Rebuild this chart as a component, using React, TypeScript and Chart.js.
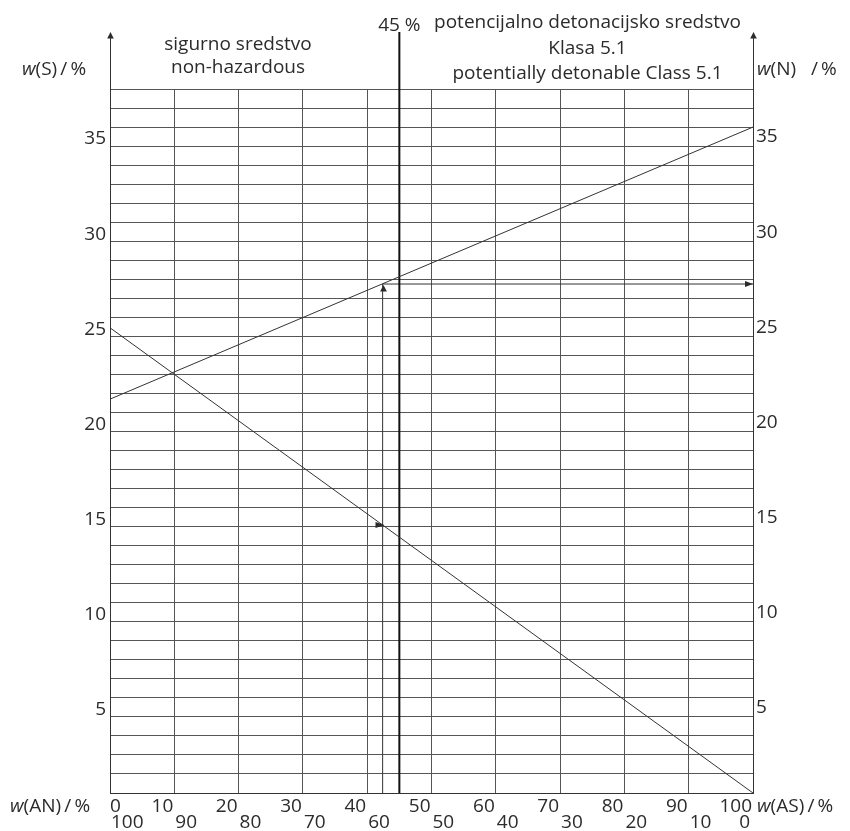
import { useEffect, useRef } from 'react';
import { Chart, registerables } from 'chart.js';

Chart.register(...registerables);

// ---- data ----
const AN_RANGE = [0, 100];            // x: w(AN) / % at the two ends of the lines
const N_LINE = [20.7, 35.0];          // w(N) / % at x = 0 and x = 100
const S_LINE = [24.45, 0];            // w(S) / % at x = 0 and x = 100
const LIMIT_AN = 45;                  // 45 % limit line
const SAMPLE_AN = 42.4;               // worked example: w(AN)
const SAMPLE_N = 26.75;               // read-off w(N)
const SAMPLE_S = 14.08;               // read-off w(S)
const Y_MIN = 0;
const Y_MAX = 37;
const AXIS_TOP = 40;                  // axes / limit line reach up to here
const X_TICKS = [0, 10, 20, 30, 40, 50, 60, 70, 80, 90, 100];
const AN_LABELS = ['0', '10', '20', '30', '40', '50', '60', '70', '80', '90', '100'];
const AS_LABELS = ['100', '90', '80', '70', '60', '50', '40', '30', '20', '10', '0'];
const Y_LABELS = [5, 10, 15, 20, 25, 30, 35];

const FONT = '"Open Sans", "Noto Sans", sans-serif';
const TEXT = '#2b2b2b';
const GRID = '#555555';
const FS = 19;

function arrowHead(ctx: CanvasRenderingContext2D, x: number, y: number, dir: 'up' | 'right', len: number, half: number) {
  ctx.beginPath();
  if (dir === 'up') {
    ctx.moveTo(x, y);
    ctx.lineTo(x - half, y + len);
    ctx.lineTo(x + half, y + len);
  } else {
    ctx.moveTo(x, y);
    ctx.lineTo(x - len, y - half);
    ctx.lineTo(x - len, y + half);
  }
  ctx.closePath();
  ctx.fill();
}

function mixed(ctx: CanvasRenderingContext2D, italic: string, rest: string, x: number, y: number, size: number) {
  ctx.textAlign = 'left';
  ctx.font = `italic ${size}px ${FONT}`;
  ctx.fillText(italic, x, y);
  const w = ctx.measureText(italic).width;
  ctx.font = `${size}px ${FONT}`;
  ctx.fillText(rest, x + w, y);
}

const decorations = {
  id: 'decorations',
  afterDraw(chart: any) {
    const { ctx, scales } = chart;
    const xs = scales.x;
    const ys = scales.y;
    const top = ys.getPixelForValue(AXIS_TOP);
    ctx.save();
    ctx.fillStyle = TEXT;
    ctx.strokeStyle = '#333';
    ctx.lineWidth = 1;

    // axis extensions with arrows
    for (const xv of AN_RANGE) {
      const px = Math.round(xs.getPixelForValue(xv)) + 0.5;
      ctx.beginPath();
      ctx.moveTo(px, ys.getPixelForValue(Y_MAX));
      ctx.lineTo(px, top + 4);
      ctx.stroke();
      arrowHead(ctx, px, top, 'up', 6.5, 3.3);
    }

    // worked-example arrow heads
    const sx = Math.round(xs.getPixelForValue(SAMPLE_AN)) + 0.5;
    arrowHead(ctx, sx, ys.getPixelForValue(SAMPLE_N) + 1, 'up', 6.5, 3.4);
    arrowHead(ctx, xs.getPixelForValue(AN_RANGE[1]), ys.getPixelForValue(SAMPLE_N), 'right', 8, 3);
    arrowHead(ctx, sx + 1, ys.getPixelForValue(SAMPLE_S), 'right', 9, 3);

    // titles
    ctx.font = `${FS}px ${FONT}`;
    ctx.textBaseline = 'alphabetic';
    ctx.textAlign = 'center';
    ctx.fillText('sigurno sredstvo', 238, 50);
    ctx.fillText('non-hazardous', 238, 73);
    ctx.fillText('45 %', xs.getPixelForValue(LIMIT_AN), 31);
    ctx.fillText('potencijalno detonacijsko sredstvo', 587.5, 28);
    ctx.fillText('Klasa 5.1', 587.5, 54);
    ctx.fillText('potentially detonable Class 5.1', 587.5, 79);

    mixed(ctx, 'w', '(S)\u2009/\u2009%', 22, 75, FS);
    mixed(ctx, 'w', '(N)   /\u2009%', 757, 75, FS);
    mixed(ctx, 'w', '(AN)\u2009/\u2009%', 10, 812, FS);
    mixed(ctx, 'w', '(AS)\u2009/\u2009%', 757, 812, FS);

    // x tick labels, two rows
    ctx.font = `${FS}px ${FONT}`;
    X_TICKS.forEach((v, i) => {
      const px = xs.getPixelForValue(v);
      ctx.textAlign = i === 0 ? 'left' : 'right';
      ctx.fillText(AN_LABELS[i], i === 0 ? px : px - 1, 812);
      ctx.textAlign = i === X_TICKS.length - 1 ? 'right' : 'left';
      ctx.fillText(AS_LABELS[i], i === X_TICKS.length - 1 ? px - 3 : px + 1, 828);
    });
    ctx.restore();
  },
};

export default function App() {
  const ref = useRef<HTMLCanvasElement | null>(null);

  useEffect(() => {
    if (!ref.current) return;
    const line = (pts: { x: number; y: number }[], extra: any = {}) => ({
      data: pts,
      showLine: true,
      pointRadius: 0,
      borderColor: '#333',
      borderWidth: 1,
      fill: false,
      ...extra,
    });
    const yTickCallback = (v: any) => (Y_LABELS.includes(Number(v)) ? String(v) : '');
    const chart = new Chart(ref.current, {
      type: 'scatter',
      data: {
        datasets: [
          line([{ x: AN_RANGE[0], y: N_LINE[0] }, { x: AN_RANGE[1], y: N_LINE[1] }]),
          line([{ x: AN_RANGE[0], y: S_LINE[0] }, { x: AN_RANGE[1], y: S_LINE[1] }]),
          line([{ x: LIMIT_AN, y: Y_MIN }, { x: LIMIT_AN, y: AXIS_TOP }], { borderWidth: 2, borderColor: '#111', clip: false }),
          line([{ x: SAMPLE_AN, y: Y_MIN }, { x: SAMPLE_AN, y: SAMPLE_N }]),
          line([{ x: SAMPLE_AN, y: SAMPLE_N }, { x: AN_RANGE[1], y: SAMPLE_N }]),
        ],
      },
      options: {
        animation: false,
        responsive: true,
        maintainAspectRatio: false,
        events: [],
        layout: { padding: { top: 89, left: 0, right: 0, bottom: 0 } },
        plugins: { legend: { display: false }, tooltip: { enabled: false } },
        scales: {
          x: {
            type: 'linear',
            min: 0,
            max: 100,
            ticks: { stepSize: 10, display: false },
            grid: { color: GRID, drawTicks: false },
            border: { color: '#333' },
            afterFit: (s: any) => { s.height = 38; },
          },
          y: {
            type: 'linear',
            position: 'left',
            min: Y_MIN,
            max: Y_MAX,
            ticks: {
              stepSize: 1,
              autoSkip: false,
              padding: 4,
              labelOffset: 12,
              color: TEXT,
              font: { family: FONT, size: FS },
              callback: yTickCallback,
            },
            grid: { color: GRID, drawTicks: false },
            border: { color: '#333' },
            afterFit: (s: any) => { s.width = 110; },
          },
          y2: {
            type: 'linear',
            position: 'right',
            min: Y_MIN,
            max: Y_MAX,
            ticks: {
              stepSize: 1,
              autoSkip: false,
              padding: 3,
              labelOffset: 10,
              color: TEXT,
              font: { family: FONT, size: FS },
              callback: yTickCallback,
            },
            grid: { display: false, drawTicks: false },
            border: { color: '#333' },
            afterFit: (s: any) => { s.width = 97; },
          },
        },
      } as any,
      plugins: [decorations],
    });
    return () => chart.destroy();
  }, []);

  return (
    <div style={{ position: 'absolute', left: 0, top: 0, width: 850, height: 831, background: '#fff' }}>
      <canvas ref={ref} style={{ display: 'block' }} />
    </div>
  );
}
